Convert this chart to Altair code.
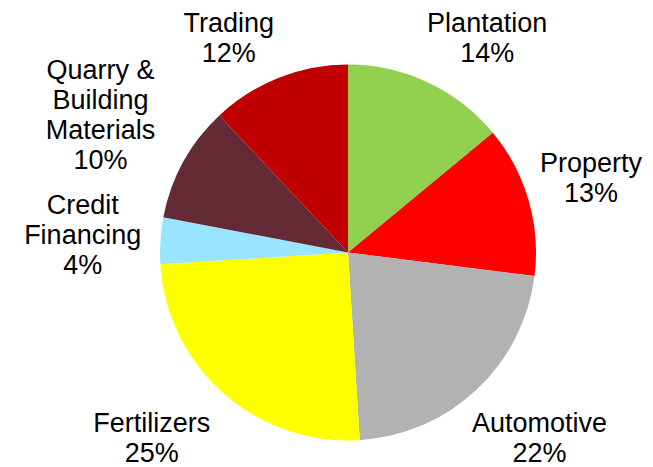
import altair as alt
import pandas as pd

categories = ["Plantation", "Property", "Automotive", "Fertilizers",
              "Credit Financing", "Quarry & Building Materials", "Trading"]
shares = [14, 13, 22, 25, 4, 10, 12]
label_lines = [["Plantation"], ["Property"], ["Automotive"], ["Fertilizers"],
               ["Credit", "Financing"], ["Quarry &", "Building", "Materials"], ["Trading"]]
colors = ["#92D050", "#FF0000", "#B2B2B2", "#FFFF00", "#99E5FF", "#632A36", "#C00000"]

texts = ["\n".join(l + [f"{s}%"]) for l, s in zip(label_lines, shares)]
df = pd.DataFrame({
    "idx": list(range(len(categories))),
    "category": categories,
    "share": shares,
    "text": texts,
    "nlines": [len(l) + 1 for l in label_lines],
    "maxlen": [max(len(x) for x in l + [f"{s}%"]) for l, s in zip(label_lines, shares)],
})

base = alt.Chart(df)

arc = base.mark_arc(outerRadius=188, stroke=None).encode(
    theta=alt.Theta("share:Q", stack=True),
    color=alt.Color("category:N", scale=alt.Scale(domain=categories, range=colors), legend=None),
    order=alt.Order("idx:Q"),
)

# label placement: outside the slice midpoint, pushed out by the label box size,
# and kept inside the chart's bounds (sliding along the label ring)
text = base.transform_joinaggregate(
    total="sum(share)"
).transform_window(
    cum="sum(share)", sort=[alt.SortField("idx")], frame=[None, 0]
).transform_calculate(
    mid="(datum.cum - datum.share/2)/datum.total*2*PI",
    hh="((datum.nlines-1)*30 + 19)/2",
    hw="datum.maxlen*13/2",
).transform_calculate(
    lr="205 + abs(sin(datum.mid))*datum.hw + abs(cos(datum.mid))*datum.hh"
).transform_calculate(
    cy="clamp(200 - datum.lr*cos(datum.mid), -38 + datum.hh, 411 - datum.hh)"
).transform_calculate(
    rawx="200 + (sin(datum.mid) >= 0 ? 1 : -1) * sqrt(max(datum.lr*datum.lr - (datum.cy-200)*(datum.cy-200), 0))",
).transform_calculate(
    lx="clamp(datum.rawx, -138 + datum.hw, 495 - datum.hw)",
    ly="datum.cy - (datum.nlines-1)*15",
).mark_text(
    font="Liberation Sans", fontSize=27, lineHeight=30, lineBreak="\n",
    align="center", baseline="middle", color="black"
).encode(
    x=alt.X("lx:Q", scale=None, axis=None),
    y=alt.Y("ly:Q", scale=None, axis=None),
    text="text:N",
)

chart = alt.layer(arc, text).properties(
    width=400, height=400,
    autosize=alt.AutoSizeParams(type="none"),
    padding={"left": 140, "top": 44.5, "right": 97, "bottom": 20},
).configure_view(stroke=None)

chart.save("out.html", embed_options={"renderer": "svg", "actions": False})
